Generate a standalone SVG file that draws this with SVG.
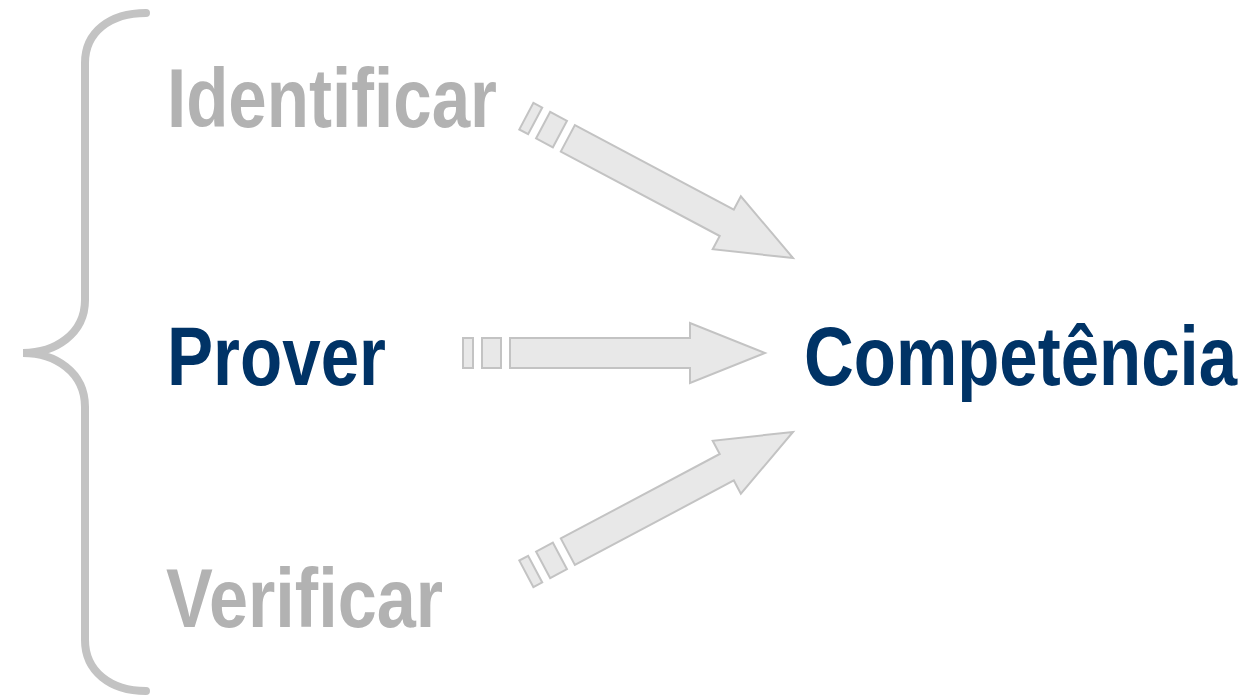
<svg xmlns="http://www.w3.org/2000/svg" width="1252" height="696" viewBox="0 0 1252 696">
  <style>
    .lbl { font-family: "Liberation Sans", Arial, sans-serif; font-weight: bold; font-size: 84px; }
    .gray { fill: #b2b2b2; }
    .navy { fill: #003366; }
    .arr { fill: #e8e8e8; stroke: #c3c3c3; stroke-width: 2; stroke-linejoin: miter; }
    .brace { fill: none; stroke: #c3c3c3; stroke-width: 8; stroke-linecap: round; }
  </style>
  <defs>
    <g id="arrowShape">
      <rect class="arr" x="-302" y="-15" width="10" height="30"/>
      <rect class="arr" x="-283" y="-15" width="19" height="30"/>
      <polygon class="arr" points="-255,-15 -75,-15 -75,-30 0,0 -75,30 -75,15 -255,15"/>
    </g>
  </defs>
  <g id="brace">
    <path class="brace" d="M146,13 C110,13 85,32 85,63 L85,300 C85,334 55,353 23,353 C55,353 85,372 85,407 L85,640 C85,671 110,691 146,691"/>
  </g>
  <g id="connectors">
    <use href="#arrowShape" transform="translate(793,258) rotate(28)"/>
    <use href="#arrowShape" transform="translate(765,353)"/>
    <use href="#arrowShape" transform="translate(793,432) rotate(-28)"/>
  </g>
  <g id="identificar">
    <text class="lbl gray" transform="translate(167,127) scale(0.822,1)">Identificar</text>
  </g>
  <g id="prover">
    <text class="lbl navy" transform="translate(167,385) scale(0.823,1)">Prover</text>
  </g>
  <g id="competencia">
    <text class="lbl navy" transform="translate(804,385) scale(0.821,1)">Competência</text>
  </g>
  <g id="verificar">
    <text class="lbl gray" transform="translate(166,627) scale(0.836,1)">Verificar</text>
  </g>
</svg>
